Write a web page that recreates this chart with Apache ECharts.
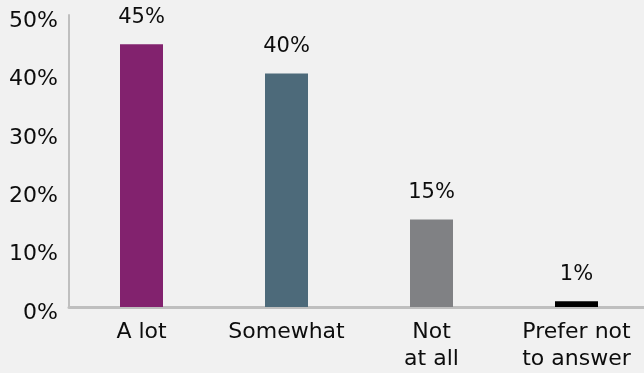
<!DOCTYPE html>
<html>
<head>
<meta charset="utf-8">
<script src="https://cdn.jsdelivr.net/npm/echarts@6/dist/echarts.min.js"></script>
<style>
  html, body { margin: 0; padding: 0; background: #f1f1f1; }
  #chart { width: 644px; height: 373px; }
</style>
</head>
<body>
<div id="chart"></div>
<script>
// Answer categories and their shares (percent)
const categories = ['A lot', 'Somewhat', 'Not\nat all', 'Prefer not\nto answer'];
const shares = [45, 40, 15, 1];
const barColors = ['#82226e', '#4d6a7a', '#808184', '#000000'];
const yTicks = [0, 10, 20, 30, 40, 50];

const font = 'DejaVu Sans';
const chart = echarts.init(document.getElementById('chart'), null, { renderer: 'canvas' });

chart.setOption({
  backgroundColor: '#f1f1f1',
  animation: false,
  // plot area runs a little past the right edge of the canvas
  grid: { left: 69, width: 580, top: 15, bottom: 66, containLabel: false, outerBoundsMode: 'none' },
  xAxis: {
    type: 'category',
    data: categories,
    axisLine: { show: true, lineStyle: { color: '#bfbfbf', width: 3 } },
    axisTick: { show: false },
    axisLabel: {
      interval: 0,
      color: '#0d0d0d', fontFamily: font, fontSize: 22, lineHeight: 27, margin: 12
    }
  },
  yAxis: {
    type: 'value',
    min: yTicks[0],
    max: yTicks[yTicks.length - 1],
    interval: 10,
    splitLine: { show: false },
    axisTick: { show: false },
    axisLine: { show: true, lineStyle: { color: '#bfbfbf', width: 2 } },
    axisLabel: {
      color: '#0d0d0d', fontFamily: font, fontSize: 22, margin: 11,
      formatter: v => '{t|' + v + '%}',
      // labels sit slightly below their tick positions
      rich: {
        t: { color: '#0d0d0d', fontFamily: font, fontSize: 22, padding: [12, 0, 0, 0] }
      }
    }
  },
  series: [{
    type: 'bar',
    barWidth: 43,
    data: shares.map((v, i) => ({ value: v, itemStyle: { color: barColors[i] } })),
    label: {
      show: true, position: 'top', distance: 16,
      color: '#0d0d0d', fontFamily: font, fontSize: 21,
      formatter: p => p.value + '%'
    }
  }]
});
</script>
</body>
</html>
